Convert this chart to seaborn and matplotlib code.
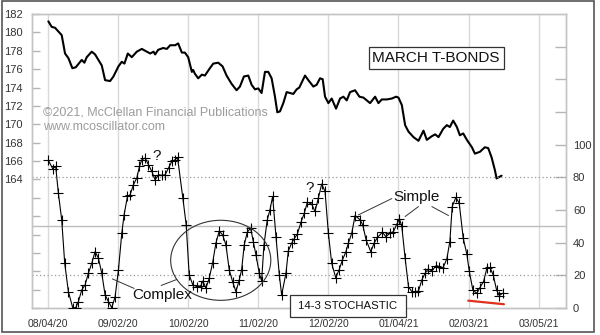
import matplotlib
matplotlib.use("Agg")
import matplotlib.pyplot as plt
import seaborn as sns
from matplotlib.patches import Ellipse, Rectangle

# ---------------- data ----------------
tick_days = [0, 21, 42, 63, 84, 105, 126, 147]
tick_labels = ["08/04/20", "09/02/20", "10/02/20", "11/02/20",
               "12/02/20", "01/04/21", "02/03/21", "03/05/21"]

price_day = [0.1, 1.1, 2.1, 3.1, 4.1, 5.1, 6.1, 7.3, 8.3, 10.1,
             10.9, 11.6, 13.1, 14.1, 15.1, 16.1, 17.1, 18.6, 19.6, 21.1,
             22.1, 22.9, 23.9, 25.1, 26.6, 28.1, 29.6, 30.6, 31.6, 32.1,
             33.0, 34.5, 35.6, 36.6, 38.1, 39.0, 40.1, 41.0, 42.0, 43.1,
             43.5, 44.0, 45.0, 46.1, 47.0, 48.5, 49.5, 51.0, 52.3, 53.5,
             55.0, 56.5, 57.5, 58.7, 60.0, 61.0, 62.0, 63.0, 64.0, 65.0,
             66.0, 67.0, 68.0, 68.7, 69.5, 70.5, 71.5, 72.5, 73.5, 74.5,
             75.3, 77.0, 78.0, 79.5, 80.5, 81.5, 82.3, 83.0, 84.0, 85.0,
             86.3, 87.5, 88.5, 89.5, 90.5, 92.0, 93.3, 94.5, 96.5, 98.0,
             99.0, 100.0, 101.5, 103.0, 104.3, 105.0, 106.0, 107.0, 108.0, 109.5,
             111.0, 112.5, 113.5, 115.0, 116.0, 117.0, 118.4, 119.5, 120.4, 121.4,
             122.5, 123.4, 124.4, 125.5, 127.0, 127.9, 129.4, 130.9, 131.9, 132.9,
             133.9, 134.4, 135.9]
price_val = [181.2, 180.6, 180.5, 180.1, 179.7, 177.7, 177.2, 176.1, 176.2, 177.0,
             176.7, 177.3, 177.9, 177.6, 177.0, 176.4, 174.8, 174.7, 175.2, 176.3,
             176.8, 176.6, 177.7, 177.3, 177.9, 178.2, 177.9, 177.7, 177.9, 177.6,
             178.1, 178.3, 178.2, 178.6, 178.6, 178.8, 177.8, 177.8, 177.3, 175.7,
             175.9, 175.5, 175.0, 175.4, 175.3, 176.1, 176.6, 176.7, 176.3, 175.3,
             174.4, 173.7, 174.1, 175.2, 175.3, 174.3, 173.8, 173.9, 173.4, 175.7,
             175.7, 175.0, 173.0, 171.3, 171.4, 172.3, 173.5, 173.4, 173.3, 173.8,
             174.0, 175.3, 174.8, 174.1, 174.3, 175.0, 174.9, 173.0, 172.3, 172.8,
             171.7, 172.8, 173.0, 172.6, 173.5, 173.7, 173.0, 172.9, 172.3, 173.0,
             172.3, 172.7, 172.7, 172.8, 173.0, 172.9, 172.1, 169.9, 169.2, 168.6,
             168.2, 169.3, 168.3, 168.7, 168.9, 168.6, 169.5, 169.9, 169.7, 170.4,
             169.7, 168.8, 169.0, 168.3, 167.5, 166.8, 167.0, 167.5, 167.4, 166.4,
             165.0, 164.1, 164.4]

stoch_day = [0.1, 1.4, 2.3, 3.1, 4.1, 5.0, 6.1, 7.4, 8.3, 9.1,
             10.1, 11.1, 12.1, 13.1, 14.1, 15.1, 16.1, 17.1, 18.1, 19.1,
             20.1, 21.1, 22.1, 22.8, 23.8, 24.6, 25.6, 26.6, 27.4, 28.1,
             29.1, 30.1, 31.1, 32.1, 33.1, 34.1, 35.1, 36.1, 37.1, 38.1,
             38.8, 40.4, 41.4, 42.3, 43.4, 44.6,
             45.8, 46.4, 47.3, 48.3, 49.3, 50.3, 51.3, 52.3, 53.3, 54.3,
             55.3, 56.3, 57.3, 58.0, 58.8, 59.7, 60.7, 61.5, 62.3, 63.3,
             64.0, 64.7, 65.7, 66.5, 67.3, 68.3, 69.3, 70.0, 71.3, 72.0,
             73.0, 73.7, 74.7, 75.8, 76.8, 77.7, 79.0, 80.0, 81.0, 82.0,
             83.0, 84.0, 85.0, 86.2, 87.2, 88.2, 89.2, 90.0, 91.0, 92.0,
             93.5, 94.3, 95.3, 96.7, 97.7, 98.7, 100.2, 101.2, 102.5, 103.5,
             104.5, 105.3, 106.0, 107.0, 108.0, 109.0, 110.0, 111.0, 112.0, 113.0,
             113.9, 115.0, 116.3, 117.2, 118.3, 119.5, 120.4, 121.1, 122.2, 123.2,
             124.4, 125.5, 126.2, 127.3, 128.5, 129.4, 130.5, 131.5, 132.4, 133.4,
             134.4, 135.2, 136.2]
stoch_val = [90.4, 85.3, 86.7, 70.3, 54.0, 27.4, 10.0, 0.2, 0.2, 3.9,
             11.0, 14.1, 21.3, 27.4, 34.5, 30.5, 21.3, 8.0, 3.9, 0.2,
             6.9, 23.3, 45.8, 57.1, 68.3, 69.3, 75.5, 79.6, 86.7, 90.8,
             91.8, 87.7, 83.6, 78.5, 81.6, 81.2, 81.6, 85.7, 89.8, 90.8,
             92.2, 67.3, 50.9, 20.2, 14.1, 13.1,
             13.7, 16.6, 12.1, 18.2, 27.4, 39.7, 47.2, 44.8, 38.7, 23.3,
             16.2, 10.0, 17.2, 23.3, 38.7, 46.4, 48.9, 40.7, 32.5, 21.3,
             16.6, 38.7, 54.0, 60.1, 68.3, 43.7, 20.2, 8.0, 21.3, 35.0,
             39.7, 42.3, 45.2, 52.6, 58.1, 64.8, 63.6, 59.1, 67.3, 75.9,
             71.4, 45.8, 27.4, 18.6, 23.3, 29.4, 34.1, 39.7, 45.8, 56.6,
             54.0, 50.9, 41.7, 34.5, 39.7, 43.2, 46.4, 43.7, 45.8, 46.8,
             51.3, 54.6, 49.9, 30.5, 13.1, 10.0, 10.0, 10.4, 17.2, 21.3,
             23.9, 22.7, 26.0, 25.4, 24.4, 30.1, 40.7, 62.1, 67.7, 64.2,
             42.8, 32.9, 22.7, 11.0, 9.0, 12.5, 16.2, 24.4, 24.8, 20.2,
             11.0, 7.6, 9.0]

red_day = [125.9, 136.6]
red_val = [4.5, 2.3]

left_ticks = list(range(150, 183, 2))
right_ticks = list(range(0, 161, 20))

# annotation leader lines (day, stochastic value)
complex_l1_day, complex_l1_val = [19.3, 25.8], [17.8, 12.0]
complex_l2_day, complex_l2_val = [33.9, 38.6], [13.8, 17.5]
simple_l1_day, simple_l1_val = [103.0, 93.0], [67.0, 57.0]
simple_l2_day, simple_l2_val = [111.0, 107.0], [62.1, 56.0]
simple_l3_day, simple_l3_val = [115.0, 120.0], [62.1, 56.6]

# ---------------- figure ----------------
sns.set_theme(style="white")
plt.rcParams['font.family'] = ['Liberation Sans', 'DejaVu Sans']

fig = plt.figure(figsize=(6, 3.35), dpi=100)
fig.patch.set_facecolor('white')
ax = fig.add_axes([32/600, 1 - 308/335, 534/600, 294/335])
ax.set_facecolor('white')
ax2 = ax.twinx()

# vertical grid
ax.set_xlim(-4.8, 155.2)
ax.set_xticks(tick_days)
ax.set_xticklabels(tick_labels)
ax.grid(axis='x', color='#d9d9d9', linewidth=1.0)
ax.grid(axis='y', visible=False)
ax.set_axisbelow(True)

# price line
sns.lineplot(x=price_day, y=price_val, ax=ax, color='black', linewidth=1.5,
             sort=False, estimator=None)
ax.set_ylim(150, 182)
ax.set_yticks(left_ticks)
ax.set_yticklabels([str(t) if t >= 164 else '' for t in left_ticks])

# stochastic
ax2.axhline(80, color='#9a9a9a', linewidth=0.9, linestyle=(0, (1, 2)), zorder=1)
ax2.axhline(20, color='#9a9a9a', linewidth=0.9, linestyle=(0, (1, 2)), zorder=1)
ax2.axhline(50, color='#bdbdbd', linewidth=1.0, zorder=1)
sns.lineplot(x=stoch_day, y=stoch_val, ax=ax2, color='black', linewidth=0.8,
             marker='+', markersize=7, markeredgewidth=0.8,
             markeredgecolor='black', sort=False, estimator=None, zorder=3)
ax2.plot(red_day, red_val, color='#e0301e', linewidth=1.6, zorder=3)
ax2.set_ylim(0, 180)
ax2.set_yticks(right_ticks)
ax2.set_yticklabels([str(t) if t <= 100 else '' for t in right_ticks])
ax2.grid(False)

ax.set_xlim(-4.8, 155.2)
ax.set_xlabel('')
ax.set_ylabel('')
ax2.set_ylabel('')

# ticks / spines
ax.tick_params(axis='x', length=0, labelsize=7.5, labelcolor='#333333', pad=8)
ax.tick_params(axis='y', direction='in', length=6, width=1, color='#b5b5b5',
               labelsize=8, labelcolor='#333333', pad=6.5)
ax2.tick_params(axis='y', direction='in', length=8, width=1, color='#b5b5b5',
                labelsize=8, labelcolor='#333333', pad=5)
for a in (ax, ax2):
    for s in a.spines.values():
        s.set_color('#c4c4c4')
        s.set_linewidth(1.0)

# ellipse and annotations
ax2.add_patch(Ellipse((51.75, 29.2), width=30, height=49, fill=False,
                      edgecolor='#333333', linewidth=0.8, zorder=4))
for dx, dy in [(complex_l1_day, complex_l1_val), (complex_l2_day, complex_l2_val),
               (simple_l1_day, simple_l1_val), (simple_l2_day, simple_l2_val),
               (simple_l3_day, simple_l3_val)]:
    ax2.plot(dx, dy, color='#333333', linewidth=0.7, zorder=4)

ax2.text(34.3, 5.5, "Complex", ha='center', va='baseline', fontsize=11,
         color='#111111', zorder=5)
ax2.text(110.3, 65.6, "Simple", ha='center', va='baseline', fontsize=11,
         color='#111111', zorder=5)
ax2.text(32.4, 90.8, "?", ha='center', va='baseline', fontsize=11,
         color='#111111', zorder=5)
ax2.text(78.3, 71.3, "?", ha='center', va='baseline', fontsize=11,
         color='#111111', zorder=5)

ax2.text(0.757, 0.851, "MARCH T-BONDS", transform=ax2.transAxes, ha='center',
         va='center', fontsize=11, color='#111111', zorder=6,
         bbox=dict(boxstyle='square,pad=0.25', fc='white', ec='#333333', lw=0.9))

# "14-3 STOCHASTIC" label box (extends below the axis line as in the original)
ax2.add_patch(Rectangle((258/534, -9/294), 116/534, 22/294,
                        transform=ax2.transAxes, clip_on=False, fc='white',
                        ec='#333333', lw=0.9, zorder=6))
ax2.text(316/534, 2/294, "14-3 STOCHASTIC", transform=ax2.transAxes,
         ha='center', va='center', fontsize=8.2, color='#111111', zorder=7)

ax2.text(0.0206, 0.656, "\u00a92021, McClellan Financial Publications",
         transform=ax2.transAxes, ha='left', va='baseline', fontsize=9,
         color='#9c9c9c', zorder=2)
ax2.text(0.0206, 0.605, "www.mcoscillator.com",
         transform=ax2.transAxes, ha='left', va='baseline', fontsize=9,
         color='#9c9c9c', zorder=2)

fig.patches.append(Rectangle((2/600, 3/335), 592/600, 331/335,
                             transform=fig.transFigure, fill=False,
                             edgecolor='#555555', linewidth=1.2))

fig.savefig("out.png", dpi=100)
